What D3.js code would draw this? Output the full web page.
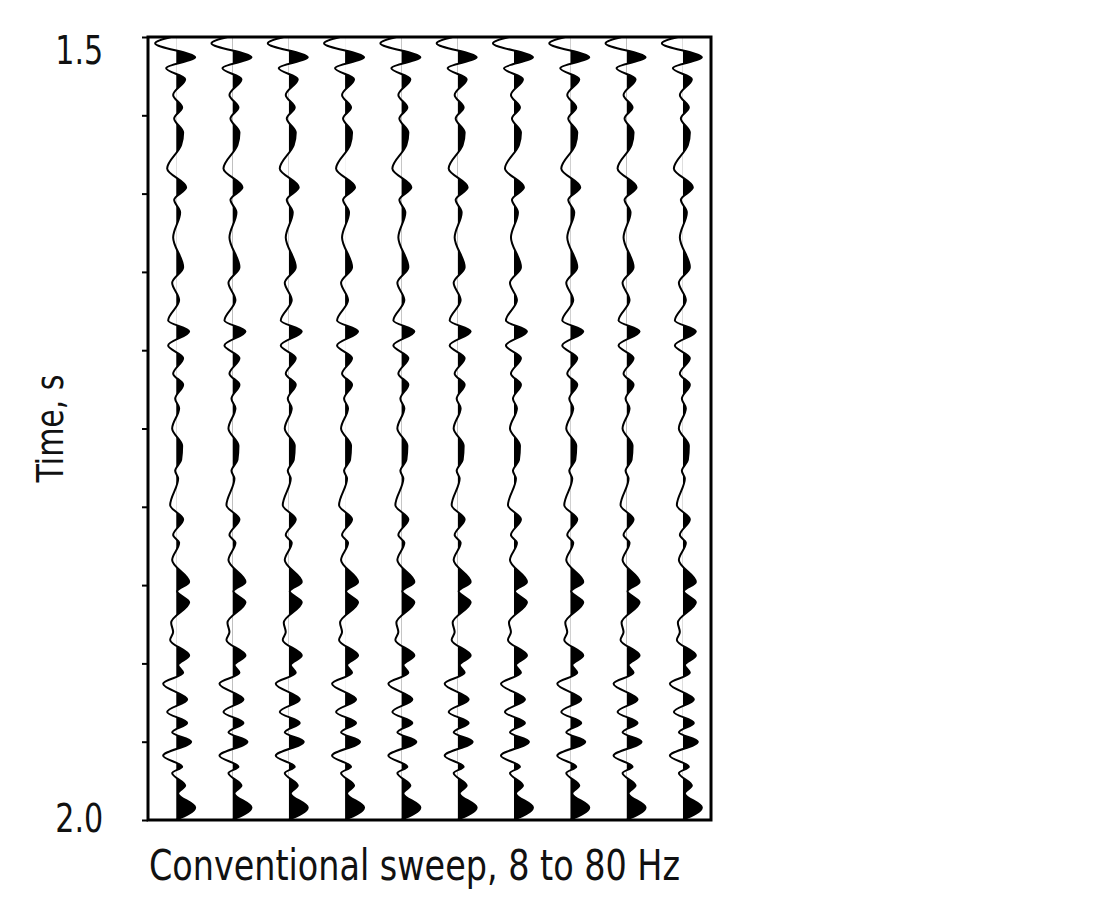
<!DOCTYPE html>
<html>
<head>
<meta charset="utf-8">
<script src="https://cdn.jsdelivr.net/npm/d3@7"></script>
<style>
  body { margin: 0; background: #fff; }
  text { font-family: "DejaVu Sans Condensed", "Liberation Sans Narrow", "Liberation Sans", sans-serif; fill: #111; }
</style>
</head>
<body>
<svg id="chart" width="1110" height="900"></svg>
<script>
// trace numbers across the section
var traces = [1, 2, 3, 4, 5, 6, 7, 8, 9, 10];

// picked extrema of the (repeated) trace: time in s, amplitude relative
var times = [
  1.500, 1.504, 1.513, 1.520, 1.527, 1.537, 1.545, 1.552, 1.561, 1.569,
  1.584, 1.596, 1.604, 1.612, 1.628, 1.647, 1.657, 1.668, 1.681, 1.688,
  1.697, 1.705, 1.715, 1.722, 1.731, 1.737, 1.750, 1.761, 1.770, 1.777,
  1.782, 1.799, 1.808, 1.818, 1.823, 1.834, 1.848, 1.854, 1.861, 1.874,
  1.880, 1.885, 1.895, 1.901, 1.906, 1.913, 1.923, 1.931, 1.938, 1.944,
  1.950, 1.959, 1.966, 1.970, 1.978, 1.983, 1.992, 2.000
];
var amps = [
  -0.25, -1.05, 0.95, -0.50, 0.45, -0.15, 0.30, -0.10, 0.35, 0.25,
  -0.45, 0.50, -0.10, 0.20, -0.15, 0.35, -0.20, 0.15, -0.40, 0.65,
  -0.40, 0.35, -0.15, 0.35, -0.05, 0.15, -0.20, 0.30, 0.25, -0.05,
  0.10, -0.30, 0.35, -0.15, 0.15, -0.20, 0.65, 0.05, 0.65, -0.25,
  -0.15, -0.30, 0.65, 0.10, 0.35, -0.65, 0.55, -0.45, 0.55, -0.20,
  0.75, -0.65, 0.30, -0.20, 0.45, 0.10, 0.95, 0.00
];

// axis ticks
var tickValues = [1.5, 1.55, 1.6, 1.65, 1.7, 1.75, 1.8, 1.85, 1.9, 1.95, 2.0];
var tickLabels = ["1.5", "", "", "", "", "", "", "", "", "", "2.0"];

var margin = {top: 37, left: 148, right: 399, bottom: 80};
var svg = d3.select("#chart");
var W = +svg.attr("width"), H = +svg.attr("height");
var innerW = W - margin.left - margin.right;
var innerH = H - margin.top - margin.bottom;

var g = svg.append("g")
  .attr("transform", "translate(" + margin.left + "," + margin.top + ")");

var y = d3.scaleLinear().domain([1.5, 2.0]).range([0, innerH]);
var xTrace = d3.scaleBand().domain(traces).range([0, innerW]);
var amp = d3.scaleLinear().domain([-1, 1]).range([-20, 20]);

var samples = times.map(function(t, i) { return {t: t, a: amps[i]}; });

var defs = svg.append("defs");

traces.forEach(function(tr) {
  var x0 = xTrace(tr) + xTrace.bandwidth() / 2;
  var id = "clip" + tr;

  // only the positive lobes get filled
  defs.append("clipPath").attr("id", id)
    .append("rect")
    .attr("x", x0).attr("y", -2)
    .attr("width", xTrace.bandwidth() / 2 + 4)
    .attr("height", innerH + 4);

  var area = d3.area()
    .curve(d3.curveMonotoneY)
    .y(function(d) { return y(d.t); })
    .x0(x0)
    .x1(function(d) { return x0 + amp(d.a); });

  var line = d3.line()
    .curve(d3.curveMonotoneY)
    .y(function(d) { return y(d.t); })
    .x(function(d) { return x0 + amp(d.a); });

  g.append("path")
    .datum(samples)
    .attr("clip-path", "url(#" + id + ")")
    .attr("fill", "#000")
    .attr("d", area);

  g.append("path")
    .datum(samples)
    .attr("fill", "none")
    .attr("stroke", "#000")
    .attr("stroke-width", 2)
    .attr("d", line);
});

// frame
g.append("rect")
  .attr("width", innerW).attr("height", innerH)
  .attr("fill", "none")
  .attr("stroke", "#000")
  .attr("stroke-width", 3);

// time axis
var yAxis = d3.axisLeft(y)
  .tickValues(tickValues)
  .tickSize(6)
  .tickPadding(46)
  .tickFormat(function(d, i) { return tickLabels[i]; });

var ax = g.append("g").call(yAxis);
ax.select(".domain").remove();
ax.selectAll(".tick line").attr("stroke", "#000").attr("stroke-width", 2);
ax.selectAll(".tick text")
  .attr("font-size", 39)
  .attr("transform", "scale(0.86,1)")
  .attr("dy", function(d, i) { return i === 0 ? "0.68em" : "0.3em"; })
  .style("font-family", '"DejaVu Sans Condensed", "Liberation Sans Narrow", sans-serif');

svg.append("text")
  .attr("transform", "translate(63," + (margin.top + innerH * 0.5) + ") rotate(-90) scale(0.9,1)")
  .attr("text-anchor", "middle")
  .attr("font-size", 37)
  .text("Time, s");

svg.append("text")
  .attr("transform", "translate(" + (margin.left + innerW / 2 - 15) + ",880) scale(0.885,1)")
  .attr("text-anchor", "middle")
  .attr("font-size", 42)
  .text("Conventional sweep, 8 to 80 Hz");
</script>
</body>
</html>
